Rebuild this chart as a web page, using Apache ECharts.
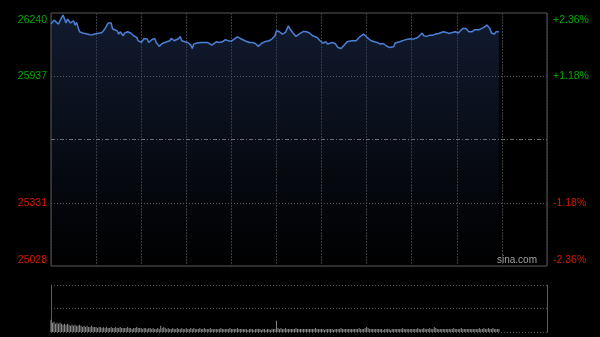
<!DOCTYPE html>
<html><head><meta charset="utf-8">
<style>html,body{margin:0;padding:0;background:#000;}#c{width:600px;height:337px;}</style>
<script src="https://cdn.jsdelivr.net/npm/echarts@6.0.0/dist/echarts.min.js"></script>
</head><body><div id="c"></div>
<script>
const prevClose = 25634;
const priceMin = 25028;
const priceMax = 26240;
const priceTicks = [25028, 25331, 25937, 26240];
const sessionMinutes = 330;

const minutes = [0,2,3,5,6,8,9,10,11,13,14,15,16,17,18,19,21,24,25,27,29,31,34,36,38,40,41,44,45,46,48,49,51,53,55,57,58,60,62,64,65,67,69,70,72,74,75,77,79,80,82,83,85,86,87,89,91,93,94,95,97,100,104,105,107,108,110,112,114,116,118,120,121,124,126,129,132,134,136,138,140,142,145,147,149,150,152,154,156,158,159,161,163,166,168,170,172,174,177,179,181,183,184,187,189,191,193,195,197,200,203,205,208,209,211,213,214,217,219,221,223,225,228,229,232,233,235,238,239,241,242,244,245,247,248,250,252,254,256,258,261,263,265,267,269,271,272,274,276,278,280,282,285,288,290,292,293,295,296,298];
const prices = [26187,26206,26211,26187,26203,26230,26211,26192,26211,26192,26198,26203,26182,26195,26171,26150,26144,26139,26147,26134,26139,26142,26147,26166,26192,26192,26163,26155,26139,26150,26131,26144,26150,26144,26131,26123,26107,26099,26118,26115,26099,26112,26118,26099,26080,26094,26086,26102,26107,26118,26107,26102,26118,26128,26107,26102,26099,26086,26070,26091,26096,26099,26099,26107,26086,26078,26102,26099,26102,26112,26107,26105,26110,26126,26118,26107,26099,26099,26094,26080,26094,26102,26107,26115,26131,26155,26150,26139,26147,26179,26163,26144,26128,26144,26152,26150,26144,26131,26123,26107,26096,26102,26091,26099,26094,26075,26070,26086,26102,26107,26107,26123,26139,26139,26118,26107,26107,26099,26091,26094,26083,26075,26078,26096,26102,26096,26110,26115,26107,26115,26112,26123,26131,26144,26131,26128,26134,26134,26139,26142,26150,26147,26142,26147,26150,26144,26150,26166,26166,26150,26150,26160,26160,26171,26182,26166,26144,26139,26150,26150];

const volumes = [
12,9,10,8,9,8,9,8,7,8,
7,8,7,6,7,6,7,6,6,7,
6,5,6,5,6,5,5,6,5,5,
5,4,5,5,4,5,4,5,4,4,
5,4,4,5,4,4,5,4,4,4,
4,5,4,4,3,4,4,5,4,4,
4,3,4,4,3,4,4,3,4,3,
3,4,3,6,4,5,4,3,4,3,
3,4,3,3,4,3,3,4,3,3,
4,3,3,4,3,4,3,3,3,4,
3,3,4,3,3,3,4,3,3,3,
3,3,3,4,3,3,3,3,3,4,
3,3,3,3,4,3,3,3,3,3,
3,2,3,3,3,2,3,3,3,3,
2,3,3,2,3,3,2,3,3,3,
11,4,3,4,3,3,4,3,3,3,
3,3,3,4,3,3,3,3,3,3,
3,3,3,3,3,3,4,3,3,3,
3,3,2,3,3,3,3,3,2,3,
3,3,3,4,3,3,3,3,3,3,
3,3,3,3,3,4,3,3,3,4,
5,4,3,3,3,3,3,3,3,3,
3,2,3,3,3,3,2,3,3,3,
3,3,3,3,4,3,3,3,3,3,
3,3,3,3,4,3,3,3,4,3,
3,3,4,3,3,5,4,3,3,3,
3,3,3,3,3,3,3,3,4,3,
3,3,3,4,3,3,3,3,3,3,
3,3,3,3,3,4,3,3,4,3,
3,4,3,3,4,3,3,3,3];

const GREEN = '#00a800', RED = '#d41a00';
const FONT = '"Liberation Sans", Arial, sans-serif';

function wrap(v, s) {
  const key = v === priceMax ? 'gt' : (v >= prevClose ? 'g' : 'r');
  return '{' + key + '|' + s + '}';
}
function priceLabel(v) { return wrap(v, String(v)); }
function pctLabel(v) {
  const p = (v - prevClose) / prevClose * 100;
  return wrap(v, (p >= 0 ? '+' : '') + p.toFixed(2) + '%');
}
const rich = {
  g: {color: GREEN, fontSize: 10.5, fontFamily: FONT},
  gt: {color: GREEN, fontSize: 10.5, fontFamily: FONT, padding: [2, 0, 0, 0]},
  r: {color: RED, fontSize: 10.5, fontFamily: FONT}
};

const chart = echarts.init(document.getElementById('c'), null, {renderer: 'canvas'});
chart.setOption({
  backgroundColor: '#000',
  animation: false,
  grid: [
    {left: 51, right: 53, top: 13, height: 253, show: true, borderColor: '#5a5a5a', borderWidth: 1, backgroundColor: 'transparent'},
    {left: 51, right: 53, top: 285, height: 47}
  ],
  xAxis: [
    {type: 'value', gridIndex: 0, min: 0, max: sessionMinutes, interval: 30,
      axisLine: {show: false}, axisTick: {show: false}, axisLabel: {show: false},
      splitLine: {show: true, lineStyle: {color: '#3d3d3d', type: [2, 1], width: 1}}},
    {type: 'value', gridIndex: 1, min: 0, max: sessionMinutes,
      axisLine: {show: false}, axisTick: {show: false}, axisLabel: {show: false}, splitLine: {show: false}}
  ],
  yAxis: [
    {type: 'value', gridIndex: 0, min: priceMin, max: priceMax, position: 'left',
      axisLine: {show: false}, axisTick: {show: false, customValues: priceTicks}, splitLine: {show: false},
      axisLabel: {customValues: priceTicks, formatter: priceLabel, rich: rich, margin: 4,
        verticalAlignMinLabel: 'bottom', verticalAlignMaxLabel: 'top'}},
    {type: 'value', gridIndex: 0, min: priceMin, max: priceMax, position: 'right',
      axisLine: {show: false}, axisTick: {show: false, customValues: priceTicks}, splitLine: {show: false},
      axisLabel: {customValues: priceTicks, formatter: pctLabel, rich: rich, margin: 6,
        verticalAlignMinLabel: 'bottom', verticalAlignMaxLabel: 'top'}},
    {type: 'value', gridIndex: 1, min: 0, max: 46, interval: 23, position: 'left',
      axisLine: {show: true, lineStyle: {color: '#5a5a5a', width: 1}}, axisTick: {show: false}, axisLabel: {show: false},
      splitLine: {show: true, lineStyle: {color: '#555', type: [1, 2], width: 1}}},
    {type: 'value', gridIndex: 1, min: 0, max: 46, position: 'right',
      axisLine: {show: true, lineStyle: {color: '#5a5a5a', width: 1}}, axisTick: {show: false}, axisLabel: {show: false},
      splitLine: {show: false}}
  ],
  graphic: [
    {type: 'text', right: 63, top: 255, silent: true,
      style: {text: 'sina.com', fill: '#a0a0a0', font: '10px ' + FONT}}
  ],
  series: [
    {type: 'line', xAxisIndex: 0, yAxisIndex: 0,
      data: minutes.map((m, i) => [m, prices[i]]),
      showSymbol: false, smooth: false,
      lineStyle: {color: '#4a80d6', width: 1.5},
      areaStyle: {color: new echarts.graphic.LinearGradient(0, 0, 0, 1, [
        {offset: 0, color: 'rgba(38,60,105,0.65)'},
        {offset: 0.5, color: 'rgba(30,48,85,0.4)'},
        {offset: 1, color: 'rgba(20,30,50,0.05)'}
      ])},
      markLine: {silent: true, symbol: 'none', label: {show: false}, animation: false,
        data: [
          {yAxis: 25937, lineStyle: {color: '#5a5a5a', type: [1, 2], width: 1}},
          {yAxis: 25331, lineStyle: {color: '#5a5a5a', type: [1, 2], width: 1}},
          {yAxis: prevClose, lineStyle: {color: '#6e6e6e', type: [4, 2, 1, 2], width: 1}}
        ]}
    },
    {type: 'bar', xAxisIndex: 1, yAxisIndex: 2,
      data: volumes.map((v, i) => [i, v]),
      barWidth: 1, itemStyle: {color: '#8a8a8a'}}
  ]
});
</script></body></html>
